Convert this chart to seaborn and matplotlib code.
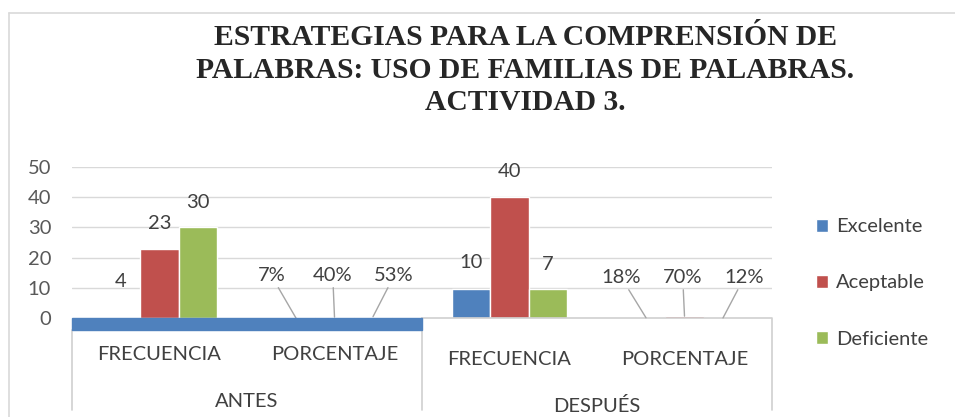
import pandas as pd
import matplotlib.pyplot as plt
import seaborn as sns
from matplotlib.patches import Rectangle

# data
periodos = ['ANTES', 'ANTES', 'DESPUÉS', 'DESPUÉS']
medidas = ['FRECUENCIA', 'PORCENTAJE', 'FRECUENCIA', 'PORCENTAJE']
series = ['Excelente', 'Aceptable', 'Deficiente']
# bar heights as drawn in the picture
excelente = [0, 0.07, 9.5, 0.18]
aceptable = [23, 0.40, 40, 0.70]
deficiente = [30, 0.53, 9.5, 0.12]
# data labels as printed
lab_excelente = ['4', '7%', '10', '18%']
lab_aceptable = ['23', '40%', '40', '70%']
lab_deficiente = ['30', '53%', '7', '12%']
lab_num = [4, None, 10, None]  # value behind the "4" label (bar not visible)

colores = ['#4f81bd', '#c0504d', '#9bbb59']
titulo = ('ESTRATEGIAS PARA LA COMPRENSIÓN DE\n'
          'PALABRAS: USO DE FAMILIAS DE PALABRAS.\n'
          'ACTIVIDAD 3.')

cats = [f'{p}-{m}' for p, m in zip(periodos, medidas)]
df = pd.DataFrame({
    'cat': cats * 3,
    'serie': sum([[s] * 4 for s in series], []),
    'valor': excelente + aceptable + deficiente,
    'etiqueta': lab_excelente + lab_aceptable + lab_deficiente,
})

sns.set_style('white')
plt.rcParams['font.family'] = ['Lato', 'DejaVu Sans']
texto = '#404040'
fs = 14.5

fig = plt.figure(figsize=(9.55, 4.17), dpi=100)
ax = fig.add_axes([72 / 955, 98.7 / 417, 700 / 955, 151.6 / 417])

sns.barplot(data=df, x='cat', y='valor', hue='serie', hue_order=series,
            palette=colores, width=0.66, ax=ax, legend=True, saturation=1)

ax.set_ylim(0, 50)
ax.set_xlim(-0.5, len(cats) - 0.5)
ax.set_yticks(range(0, 51, 10))
ax.tick_params(axis='y', length=0, pad=15, labelsize=fs, labelcolor='#595959')
ax.set_xticks([])
ax.set_xlabel('')
ax.set_ylabel('')
for s in ax.spines.values():
    s.set_visible(False)
for y in range(10, 51, 10):
    ax.axhline(y, color='#d9d9d9', lw=1, zorder=0)

# data labels
dodge = 0.22
offs = [-dodge, 0, dodge]
pct_dx = [-0.14, -0.01, 0.12]
vals = [excelente, aceptable, deficiente]
labs = [lab_excelente, lab_aceptable, lab_deficiente]
for j in range(3):
    for i in range(len(cats)):
        x = i + offs[j]
        h = vals[j][i]
        t = labs[j][i]
        if t.endswith('%'):
            ty = 14.0 if periodos[i] == 'ANTES' else 13.3
            ax.annotate(t, xy=(x, h), xytext=(x + pct_dx[j], ty),
                        ha='center', va='center', fontsize=fs, color=texto,
                        arrowprops=dict(arrowstyle='-', color='#a6a6a6', lw=1,
                                        shrinkA=0, shrinkB=0))
        else:
            base = h
            if j == 0 and lab_num[i] is not None:
                base = max(h, lab_num[i])
            ax.text(x, base + 8.3, t, ha='center', va='center',
                    fontsize=fs, color=texto)

# category axis box (two levels)
tr = ax.get_xaxis_transform()
grid_c = '#d0d0d0'
band = Rectangle((-0.5, -0.079), 2, 0.079, transform=tr, color=colores[0],
                 clip_on=False, zorder=3)
ax.add_patch(band)
ax.plot([-0.5, -0.5], [-0.079, -0.605], transform=tr, color=grid_c, lw=1.2, clip_on=False)
ax.plot([1.5, 1.5], [0, -0.605], transform=tr, color=grid_c, lw=1.2, clip_on=False)
ax.plot([1.5, 3.5, 3.5], [0, 0, -0.605], transform=tr, color=grid_c, lw=1.2, clip_on=False)
for i, m in enumerate(medidas):
    yy = -0.242 if periodos[i] == 'ANTES' else -0.275
    ax.text(i, yy, m, transform=tr, ha='center', va='center', fontsize=fs, color=texto)
for k, p in enumerate(['ANTES', 'DESPUÉS']):
    yy = -0.55 if p == 'ANTES' else -0.578
    ax.text(2 * k + 0.5, yy, p, transform=tr, ha='center', va='center',
            fontsize=fs, color=texto)

# legend
handles, labels = ax.get_legend_handles_labels()
ax.legend(handles, labels, loc='center left', bbox_to_anchor=(798 / 955, 1 - 283 / 417),
          bbox_transform=fig.transFigure, frameon=False, fontsize=fs,
          labelcolor=texto, handlelength=0.6, handleheight=0.6,
          handletextpad=0.4, labelspacing=1.95)

# outer chart border
fig.add_artist(plt.Line2D([9 / 955, 9 / 955], [0, 1 - 13 / 417], color='#d9d9d9', lw=1.2))
fig.add_artist(plt.Line2D([9 / 955, 1], [1 - 13 / 417, 1 - 13 / 417], color='#d9d9d9', lw=1.2))

fig.text(525 / 955, 1 - 70 / 417, titulo, ha='center', va='center',
         family='Liberation Serif', fontweight='bold', fontsize=21.3,
         linespacing=1.25, multialignment='center')

fig.savefig('out.png', dpi=100)
